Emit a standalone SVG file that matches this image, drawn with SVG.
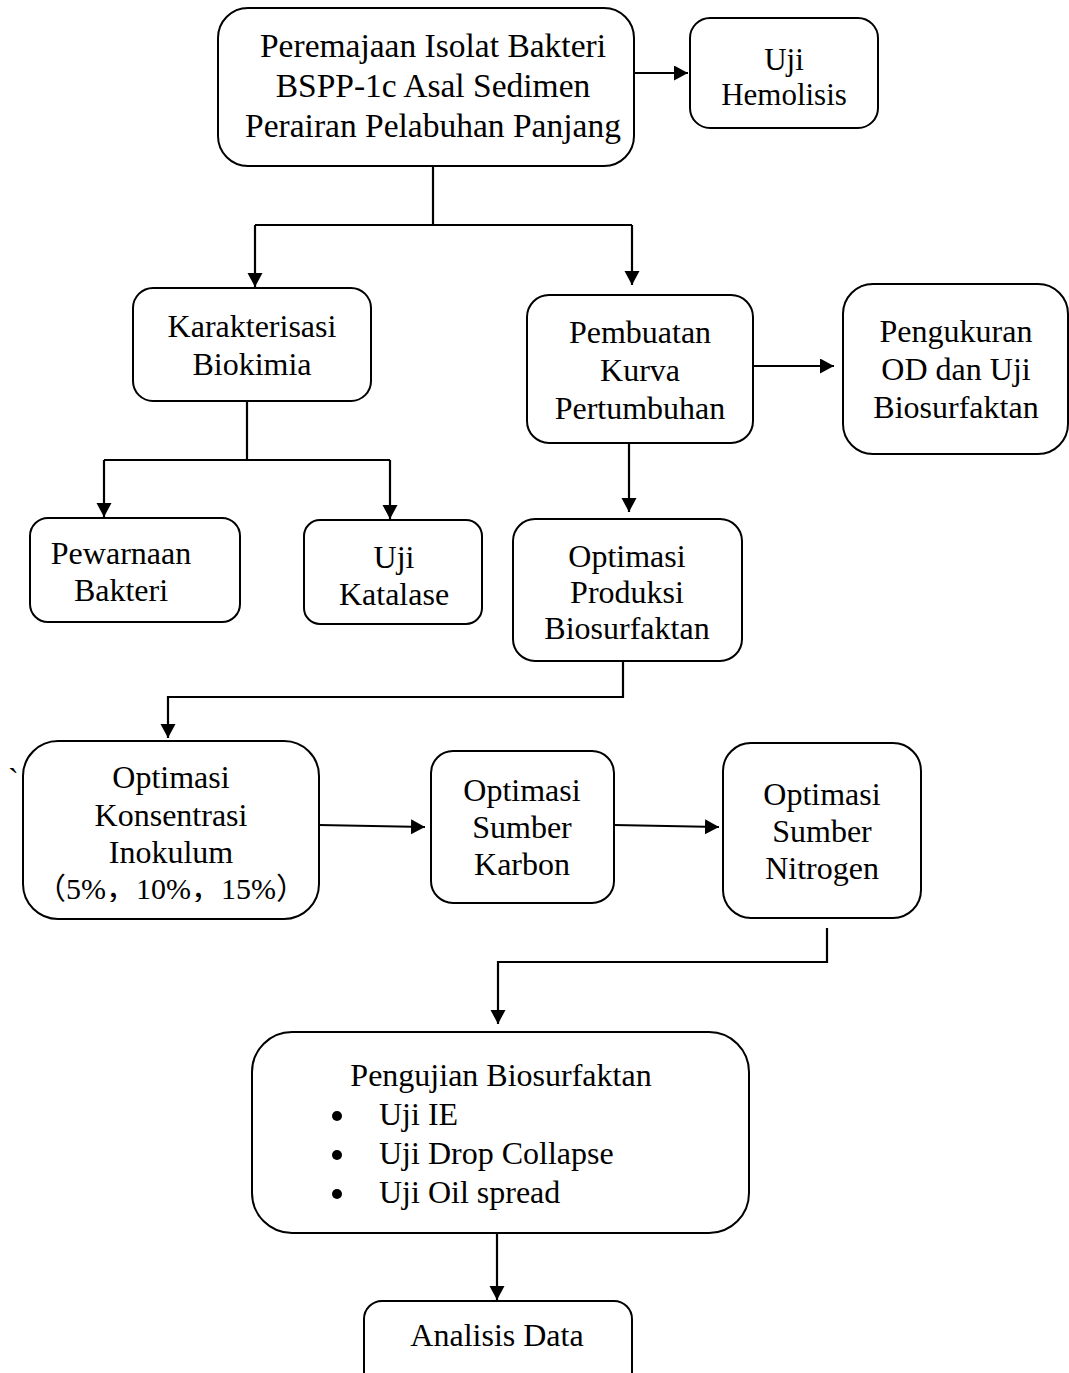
<svg xmlns="http://www.w3.org/2000/svg" width="1069" height="1373" viewBox="0 0 1069 1373">
<style>
.box{fill:#fff;stroke:#000;stroke-width:2}
.t{font-family:"Liberation Serif","Noto Sans CJK SC",serif;font-size:32px;fill:#000;text-anchor:middle}
.l{font-family:"Liberation Serif","Noto Sans CJK SC",serif;font-size:32px;fill:#000}
.c{fill:none;stroke:#000;stroke-width:2.2}
</style>
<defs>
<marker id="ah" markerUnits="userSpaceOnUse" markerWidth="16" markerHeight="16" refX="14" refY="7.5" orient="auto">
<path d="M0,0 L14,7.5 L0,15 Z" fill="#000"/>
</marker>
</defs>
<rect width="1069" height="1373" fill="#fff"/>
<g id="connectors">
<path class="c" d="M634,73 H688" marker-end="url(#ah)"/>
<path class="c" d="M433,166 V225"/>
<path class="c" d="M255,225 H632"/>
<path class="c" d="M255,225 V287" marker-end="url(#ah)"/>
<path class="c" d="M632,225 V285" marker-end="url(#ah)"/>
<path class="c" d="M753,366 H834" marker-end="url(#ah)"/>
<path class="c" d="M247,401 V459"/>
<path class="c" d="M104,460 H390"/>
<path class="c" d="M104,460 V517" marker-end="url(#ah)"/>
<path class="c" d="M390,460 V519" marker-end="url(#ah)"/>
<path class="c" d="M629,443 V512" marker-end="url(#ah)"/>
<path class="c" d="M623,661 V697 H168 V738" marker-end="url(#ah)"/>
<path class="c" d="M319,825 L425,827" marker-end="url(#ah)"/>
<path class="c" d="M614,825 L719,827" marker-end="url(#ah)"/>
<path class="c" d="M827,928 V962 H498 V1024" marker-end="url(#ah)"/>
<path class="c" d="M497,1233 V1300" marker-end="url(#ah)"/>
</g>
<g id="n-peremajaan">
<rect class="box" x="218" y="8" width="416" height="158" rx="30"/>
<text class="t" x="433" y="57" style="font-size:33.5px">Peremajaan Isolat Bakteri</text>
<text class="t" x="433" y="97" style="font-size:33.5px">BSPP-1c Asal Sedimen</text>
<text class="t" x="433" y="137" style="font-size:33.5px">Perairan Pelabuhan Panjang</text>
</g>
<g id="n-hemolisis">
<rect class="box" x="690" y="18" width="188" height="110" rx="20"/>
<text class="t" x="784" y="70" style="font-size:31px">Uji</text>
<text class="t" x="784" y="105" style="font-size:31px">Hemolisis</text>
</g>
<g id="n-karakterisasi">
<rect class="box" x="133" y="288" width="238" height="113" rx="20"/>
<text class="t" x="252" y="337">Karakterisasi</text>
<text class="t" x="252" y="375">Biokimia</text>
</g>
<g id="n-kurva">
<rect class="box" x="527" y="295" width="226" height="148" rx="22"/>
<text class="t" x="640" y="343">Pembuatan</text>
<text class="t" x="640" y="381">Kurva</text>
<text class="t" x="640" y="419">Pertumbuhan</text>
</g>
<g id="n-pengukuran">
<rect class="box" x="843" y="284" width="225" height="170" rx="30"/>
<text class="t" x="956" y="342">Pengukuran</text>
<text class="t" x="956" y="380">OD dan Uji</text>
<text class="t" x="956" y="418">Biosurfaktan</text>
</g>
<g id="n-pewarnaan">
<rect class="box" x="30" y="518" width="210" height="104" rx="18"/>
<text class="t" x="121" y="564">Pewarnaan</text>
<text class="t" x="121" y="601">Bakteri</text>
</g>
<g id="n-katalase">
<rect class="box" x="304" y="520" width="178" height="104" rx="16"/>
<text class="t" x="394" y="568">Uji</text>
<text class="t" x="394" y="605">Katalase</text>
</g>
<g id="n-produksi">
<rect class="box" x="513" y="519" width="229" height="142" rx="22"/>
<text class="t" x="627" y="567">Optimasi</text>
<text class="t" x="627" y="603">Produksi</text>
<text class="t" x="627" y="639">Biosurfaktan</text>
</g>
<text class="l" x="8" y="790">`</text>
<g id="n-inokulum">
<rect class="box" x="23" y="741" width="296" height="178" rx="35"/>
<text class="t" x="171" y="788">Optimasi</text>
<text class="t" x="171" y="826">Konsentrasi</text>
<text class="t" x="171" y="863">Inokulum</text>
<svg x="23" y="741" width="296" height="161" overflow="hidden">
<text class="t" x="148" y="158" style="font-size:30px">（5%，10%，15%）</text>
</svg>
</g>
<g id="n-karbon">
<rect class="box" x="431" y="751" width="183" height="152" rx="22"/>
<text class="t" x="522" y="801">Optimasi</text>
<text class="t" x="522" y="838">Sumber</text>
<text class="t" x="522" y="875">Karbon</text>
</g>
<g id="n-nitrogen">
<rect class="box" x="723" y="743" width="198" height="175" rx="28"/>
<text class="t" x="822" y="805">Optimasi</text>
<text class="t" x="822" y="842">Sumber</text>
<text class="t" x="822" y="879">Nitrogen</text>
</g>
<g id="n-pengujian">
<rect class="box" x="252" y="1032" width="497" height="201" rx="40"/>
<text class="t" x="501" y="1086">Pengujian Biosurfaktan</text>
<circle cx="337" cy="1116" r="5"/>
<circle cx="337" cy="1155" r="5"/>
<circle cx="337" cy="1194" r="5"/>
<text class="l" x="379" y="1125">Uji IE</text>
<text class="l" x="379" y="1164">Uji Drop Collapse</text>
<text class="l" x="379" y="1203">Uji Oil spread</text>
</g>
<g id="n-analisis">
<rect class="box" x="364" y="1301" width="268" height="90" rx="18"/>
<text class="t" x="497" y="1346">Analisis Data</text>
</g>
</svg>
